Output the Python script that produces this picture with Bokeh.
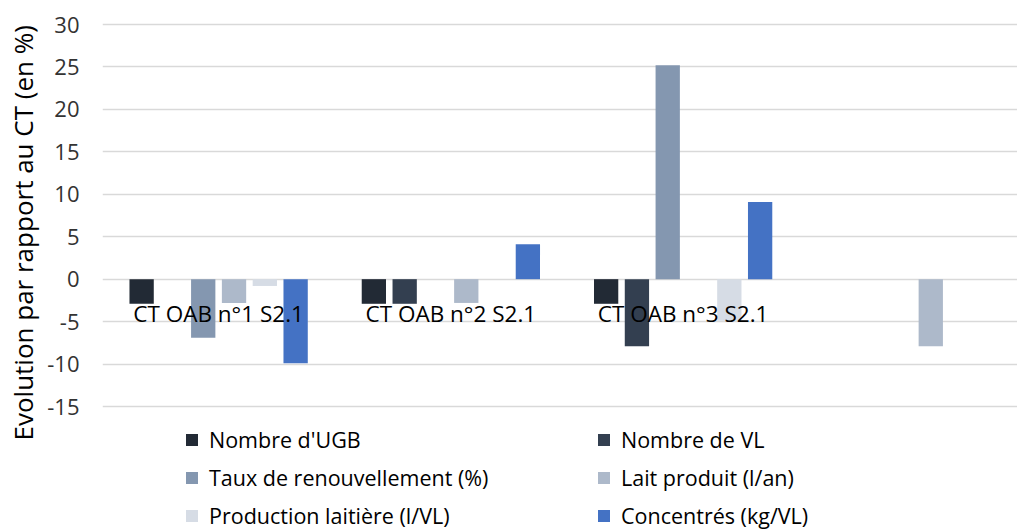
import numpy as np
from bokeh.plotting import figure
from bokeh.models import (Legend, LegendItem, FixedTicker, Range1d, Title,
                          ColumnDataSource)
from bokeh.core.properties import value
from bokeh.embed import file_html
from bokeh.resources import INLINE

# ---- data ----
categories = ["CT OAB n°1 S2.1", "CT OAB n°2 S2.1", "CT OAB n°3 S2.1", ""]
series_names = ["Nombre d'UGB", "Nombre de VL", "Taux de renouvellement (%)",
                "Lait produit (l/an)", "Production laitière (l/VL)", "Concentrés (kg/VL)"]
nombre_ugb = [-2.9, -2.9, -2.9, 0]
nombre_vl = [0, -2.9, -7.9, 0]
taux_renouvellement = [-6.9, 0, 25.2, 0]
lait_produit = [-2.8, -2.8, 0, -7.9]
production_laitiere = [-0.8, 0, -4.9, 0]
concentres = [-9.9, 4.1, 9.1, 0]
y_ticks = [-15, -10, -5, 0, 5, 10, 15, 20, 25, 30]
y_title = "Evolution par rapport au CT (en %)"

series_values = [nombre_ugb, nombre_vl, taux_renouvellement,
                 lait_produit, production_laitiere, concentres]
colors = ["#222A35", "#333F50", "#8497B0", "#ADB9CA", "#D6DCE5", "#4472C4"]

FONT = "Open Sans"

# ---- figure ----
W, H = 1017, 530
BL, BT = 102, 22
ppu = (406 - 24) / 45.0
y_end = 30 + 2 / ppu
y_start = y_end - (H - BT) / ppu

p = figure(width=W, height=H, output_backend="svg", toolbar_location=None,
           x_range=Range1d(0, (W - BL) / 232.25), y_range=Range1d(y_start, y_end),
           x_axis_type=None, min_border_left=BL, min_border_right=0,
           min_border_top=BT, min_border_bottom=0)
p.outline_line_color = None
p.xgrid.visible = False
p.ygrid.grid_line_color = "#D9D9D9"
p.ygrid.grid_line_width = 1.5

yax = p.yaxis[0]
yax.ticker = FixedTicker(ticks=y_ticks)
yax.major_label_overrides = {t: str(t) for t in y_ticks}
yax.axis_line_color = None
yax.major_tick_line_color = None
yax.minor_tick_line_color = None
yax.major_tick_out = 0
yax.major_tick_in = 0
yax.major_label_standoff = 23
yax.major_label_text_font = FONT
yax.major_label_text_font_size = "22px"
yax.major_label_text_color = "#333333"

# ---- bars ----
n = len(series_values)
pitch = 30.8 / 232.25
bar_w = 24.3 / 232.25
centers = np.arange(len(categories)) + 0.5
items = []
for k, (name, vals, col) in enumerate(zip(series_names, series_values, colors)):
    xs = centers + (k - (n - 1) / 2) * pitch
    src = ColumnDataSource(dict(x=xs, top=vals))
    r = p.vbar(x="x", top="top", bottom=0, width=bar_w, source=src,
               fill_color=col, line_color=None)
    items.append(LegendItem(label=name, renderers=[r]))

# ---- category labels ----
p.text(x=centers, y=[0] * len(categories), text=categories, y_offset=34,
       text_align="center", text_baseline="middle",
       text_font=value(FONT), text_font_size="22.5px", text_color="#000000")

# ---- axis title (vertical, left of the tick labels) ----
t = Title(text=y_title, align="left", vertical_align="middle", offset=90,
          standoff=5, text_font=FONT, text_font_size="26px",
          text_font_style="normal", text_color="#000000")
p.add_layout(t, "left")

# ---- legend ----
legend = Legend(items=items, orientation="horizontal", ncols=2,
                location=(82, 0), glyph_width=15, glyph_height=15,
                label_standoff=10, spacing=9, label_width=378, padding=0, margin=0,
                label_text_font=FONT, label_text_font_size="21.5px",
                label_text_color="#000000", border_line_color=None,
                background_fill_alpha=0)
p.add_layout(legend, "center")

open("out.html", "w").write(file_html(p, INLINE))
